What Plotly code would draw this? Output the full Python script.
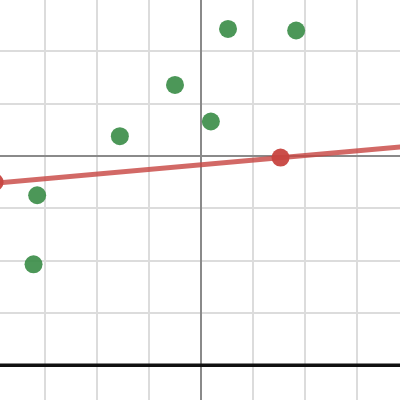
import plotly.graph_objects as go

# Data
green_x = [0.52, 1.83, -0.50, 0.19, -1.56, -3.15, -3.22]
green_y = [2.43, 2.40, 1.36, 0.66, 0.38, -0.75, -2.07]

red_x = [1.53, -3.97]
red_y = [-0.03, -0.50]

line_x = [-4.0, 4.0]
line_y = [-0.525, 0.19]

hline_y = -4.0

fig = go.Figure()
fig.add_trace(go.Scatter(x=line_x, y=line_y, mode="lines",
                         line=dict(color="rgba(199,68,64,0.8)", width=5),
                         hoverinfo="skip"))
fig.add_trace(go.Scatter(x=green_x, y=green_y, mode="markers",
                         marker=dict(color="rgba(56,140,70,0.9)", size=18, line=dict(width=0))))
fig.add_trace(go.Scatter(x=red_x, y=red_y, mode="markers",
                         marker=dict(color="rgba(199,68,64,0.95)", size=18, line=dict(width=0))))
fig.add_shape(type="line", xref="paper", x0=0, x1=1, yref="y", y0=hline_y, y1=hline_y,
              line=dict(color="#111111", width=3.5), layer="above")

fig.update_layout(
    width=400, height=400, margin=dict(l=0, r=0, t=0, b=0),
    plot_bgcolor="white", paper_bgcolor="white", showlegend=False,
    xaxis=dict(range=[-3.865, 3.827], dtick=1, tick0=0, showticklabels=False,
               gridcolor="#dcdcdc", gridwidth=2, zeroline=True, zerolinecolor="#8a8a8a",
               zerolinewidth=2, fixedrange=True),
    yaxis=dict(range=[-4.665, 2.983], dtick=1, tick0=0, showticklabels=False,
               gridcolor="#dcdcdc", gridwidth=2, zeroline=True, zerolinecolor="#8a8a8a",
               zerolinewidth=2, fixedrange=True),
)
fig.write_html("out.html", config={"displayModeBar": False},
               post_script="document.body.style.margin='0';document.body.style.overflow='hidden';")
